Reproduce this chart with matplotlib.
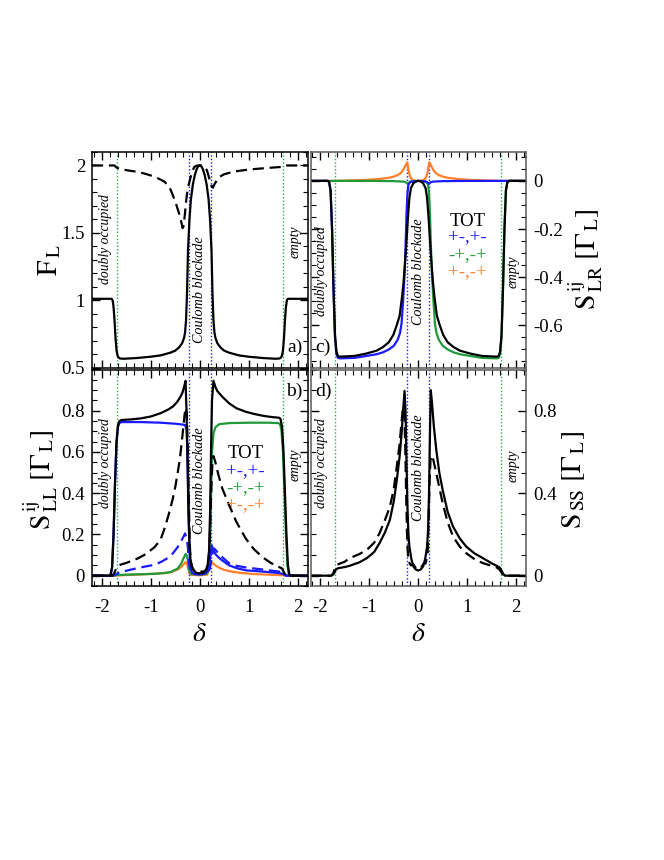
"""Four-panel noise plot: F_L, S_LL, S_LR, S_SS versus detuning delta."""

from __future__ import annotations

import matplotlib

matplotlib.use("Agg")

import matplotlib.pyplot as plt
from matplotlib.ticker import MultipleLocator, AutoMinorLocator

plt.rcParams["font.family"] = ["Liberation Serif", "DejaVu Serif"]
plt.rcParams["mathtext.fontset"] = "stix"

BLUE = "#1a1aff"
GREEN = "#1f9a3a"
ORANGE = "#ff7f2a"
VGREEN = "#2bb04a"

# 竖直参考线位置
delta_green = [-1.69, 1.69]
delta_blue = [-0.22, 0.22]

# ---- panel a: F_L ----
fl_solid_delta = [-2.2, -1.80, -1.78, -1.76, -1.74, -1.72, -1.70, -1.68, -1.66, -1.63, -1.55, -1.3, -1.0,
                  -0.8, -0.6, -0.5, -0.42, -0.36, -0.32, -0.3, -0.28, -0.26, -0.24, -0.21, -0.18, -0.14,
                  -0.1, -0.06, -0.03, 0.0, 0.03, 0.06, 0.1, 0.14, 0.18, 0.21, 0.24, 0.26, 0.28, 0.3, 0.32,
                  0.36, 0.42, 0.5, 0.6, 0.8, 1.0, 1.3, 1.55, 1.63, 1.66, 1.68, 1.70, 1.72, 1.74, 1.76, 1.78,
                  1.80, 2.2]
fl_solid = [1.01, 1.01, 1.0, 0.95, 0.85, 0.72, 0.63, 0.59, 0.575, 0.567, 0.565, 0.57, 0.58,
            0.59, 0.61, 0.625, 0.65, 0.68, 0.72, 0.76, 0.85, 1.05, 1.37, 1.6, 1.75, 1.86,
            1.93, 1.975, 1.995, 2.0, 1.995, 1.975, 1.93, 1.86, 1.75, 1.6, 1.37, 1.05, 0.85, 0.76, 0.72,
            0.68, 0.65, 0.625, 0.61, 0.59, 0.58, 0.57, 0.565, 0.567, 0.575, 0.59, 0.63, 0.72, 0.85, 0.95, 1.0,
            1.01, 1.01]
fl_dashed_delta = [-2.2, -1.74, -1.7, -1.64, -1.45, -1.27, -1.1, -0.92, -0.72, -0.62, -0.55, -0.48, -0.41,
                   -0.37, -0.35, -0.33, -0.3, -0.28, -0.25, -0.21, -0.16, -0.11, -0.05, 0.0, 0.05, 0.11,
                   0.15, 0.19, 0.22, 0.25, 0.27, 0.3, 0.35, 0.4, 0.5, 0.7, 1.0, 1.4, 1.7, 1.76, 2.2]
fl_dashed = [2.0, 2.0, 1.985, 1.975, 1.962, 1.953, 1.937, 1.917, 1.88, 1.84, 1.78, 1.71, 1.63,
             1.57, 1.535, 1.55, 1.65, 1.73, 1.82, 1.88, 1.95, 1.99, 2.0, 2.0, 2.0, 1.99,
             1.96, 1.91, 1.87, 1.84, 1.835, 1.86, 1.89, 1.915, 1.935, 1.955, 1.97, 1.982, 1.99, 2.0, 2.0]

# ---- panel b: S_LL ----
sll_tot_delta = [-2.2, -1.85, -1.82, -1.79, -1.76, -1.73, -1.7, -1.67, -1.64, -1.6, -1.4, -1.2, -1.0, -0.8,
                 -0.65, -0.55, -0.47, -0.4, -0.35, -0.31, -0.29, -0.27, -0.25, -0.23, -0.21, -0.19, -0.16,
                 -0.12, -0.08, -0.04, 0.0, 0.04, 0.08, 0.12, 0.16, 0.19, 0.21, 0.23, 0.25, 0.28, 0.32, 0.36,
                 0.46, 0.6, 0.75, 0.94, 1.1, 1.28, 1.45, 1.62, 1.65, 1.68, 1.71, 1.74, 1.77, 1.8, 1.83, 1.86, 2.2]
sll_tot = [0.0, 0.0, 0.005, 0.04, 0.2, 0.45, 0.65, 0.73, 0.75, 0.755, 0.758, 0.763, 0.772, 0.788,
           0.805, 0.82, 0.84, 0.865, 0.89, 0.925, 0.945, 0.8, 0.55, 0.3, 0.15, 0.08, 0.045,
           0.025, 0.015, 0.012, 0.012, 0.012, 0.015, 0.025, 0.05, 0.12, 0.3, 0.6, 0.85, 0.945, 0.915, 0.895,
           0.868, 0.836, 0.812, 0.795, 0.785, 0.776, 0.77, 0.766, 0.76, 0.72, 0.6, 0.4, 0.2, 0.05, 0.005, 0.0, 0.0]
sll_tot_dashed_delta = [-2.2, -1.78, -1.74, -1.7, -1.66, -1.5, -1.27, -1.1, -0.92, -0.8, -0.72, -0.63, -0.55,
                        -0.5, -0.45, -0.41, -0.38, -0.34, -0.31, -0.285, -0.265, -0.245, -0.225, -0.205,
                        -0.185, -0.15, -0.08, 0.0, 0.08, 0.14, 0.18, 0.2, 0.22, 0.24, 0.26, 0.28, 0.32, 0.38,
                        0.46, 0.6, 0.75, 0.94, 1.1, 1.28, 1.45, 1.62, 1.68, 1.72, 1.76, 2.2]
sll_tot_dashed = [0.0, 0.0, 0.015, 0.04, 0.05, 0.062, 0.083, 0.105, 0.139, 0.175, 0.228, 0.3, 0.374,
                  0.43, 0.5, 0.56, 0.62, 0.71, 0.78, 0.815, 0.79, 0.62, 0.37, 0.16,
                  0.07, 0.032, 0.02, 0.02, 0.02, 0.03, 0.07, 0.15, 0.3, 0.45, 0.55, 0.58, 0.55, 0.49,
                  0.423, 0.342, 0.26, 0.18, 0.13, 0.09, 0.062, 0.042, 0.035, 0.015, 0.0, 0.0]
sll_pm_delta = [-2.2, -1.85, -1.82, -1.79, -1.76, -1.73, -1.7, -1.67, -1.64, -1.6, -1.2, -0.8, -0.5, -0.35,
                -0.3, -0.27, -0.25, -0.23, -0.21, -0.19, -0.16, -0.1, 0.0, 0.1, 0.16, 0.2, 0.23, 0.245,
                0.28, 0.32, 0.4, 0.46, 0.6, 0.75, 0.94, 1.28, 1.62, 1.7, 1.76, 2.2]
sll_pm = [0.0, 0.0, 0.005, 0.04, 0.2, 0.45, 0.64, 0.72, 0.74, 0.745, 0.745, 0.742, 0.737, 0.733,
          0.73, 0.71, 0.6, 0.35, 0.12, 0.04, 0.015, 0.008, 0.008, 0.01, 0.02, 0.06, 0.12, 0.147,
          0.125, 0.105, 0.085, 0.074, 0.05, 0.037, 0.026, 0.02, 0.013, 0.008, 0.0, 0.0]
sll_pm_dashed_delta = [-2.2, -1.8, -1.72, -1.65, -1.5, -1.27, -1.1, -0.92, -0.78, -0.65, -0.55, -0.45,
                       -0.38, -0.33, -0.3, -0.28, -0.26, -0.24, -0.22, -0.19, -0.15, 0.0, 0.15, 0.2,
                       0.24, 0.27, 0.3, 0.34, 0.4, 0.46, 0.6, 0.75, 0.94, 1.28, 1.62, 1.7, 1.78, 2.2]
sll_pm_dashed = [0.0, 0.0, 0.005, 0.015, 0.024, 0.037, 0.045, 0.053, 0.068, 0.086, 0.108, 0.139,
                 0.168, 0.19, 0.205, 0.19, 0.17, 0.13, 0.06, 0.02, 0.01, 0.006, 0.01, 0.03,
                 0.08, 0.118, 0.131, 0.12, 0.1, 0.09, 0.06, 0.048, 0.04, 0.03, 0.02, 0.012, 0.0, 0.0]
sll_mp_delta = [-2.2, -1.75, -1.7, -1.5, -1.2, -0.92, -0.7, -0.59, -0.45, -0.38, -0.33, -0.29, -0.27,
                -0.25, -0.23, -0.21, -0.18, 0.0, 0.15, 0.19, 0.21, 0.23, 0.25, 0.28, 0.32, 0.4, 0.6,
                1.0, 1.4, 1.6, 1.64, 1.67, 1.7, 1.73, 1.76, 1.79, 1.82, 1.85, 2.2]
sll_mp = [0.0, 0.0, 0.003, 0.005, 0.007, 0.009, 0.013, 0.018, 0.035, 0.058, 0.085, 0.105, 0.1,
          0.085, 0.05, 0.02, 0.008, 0.005, 0.01, 0.04, 0.15, 0.4, 0.6, 0.69, 0.72, 0.735, 0.74,
          0.742, 0.742, 0.74, 0.735, 0.7, 0.6, 0.4, 0.2, 0.05, 0.005, 0.0, 0.0]
sll_x_delta = [-2.2, -1.75, -1.5, -1.2, -0.9, -0.7, -0.59, -0.45, -0.38, -0.33, -0.29, -0.27, -0.25,
               -0.23, -0.21, -0.18, 0.0, 0.15, 0.19, 0.22, 0.245, 0.27, 0.32, 0.4, 0.5, 0.65, 0.85,
               1.1, 1.4, 1.7, 1.8, 2.2]
sll_x = [0.0, 0.0, 0.003, 0.006, 0.01, 0.014, 0.017, 0.03, 0.042, 0.055, 0.065, 0.062, 0.05,
         0.03, 0.012, 0.004, 0.002, 0.005, 0.03, 0.055, 0.065, 0.06, 0.05, 0.038, 0.028, 0.02, 0.013,
         0.008, 0.005, 0.002, 0.0, 0.0]

# ---- panel c: S_LR ----
slr_tot_delta = [-2.2, -1.85, -1.82, -1.79, -1.76, -1.73, -1.7, -1.67, -1.64, -1.6, -1.3, -1.06, -0.85,
                 -0.72, -0.6, -0.51, -0.44, -0.38, -0.33, -0.3, -0.27, -0.24, -0.21, -0.18, -0.15, -0.1,
                 -0.05, 0.0, 0.05, 0.1, 0.15, 0.18, 0.21, 0.24, 0.27, 0.3, 0.33, 0.38, 0.44, 0.51, 0.6,
                 0.72, 0.85, 1.06, 1.3, 1.6, 1.64, 1.67, 1.7, 1.73, 1.76, 1.79, 1.82, 1.85, 2.2]
slr_tot = [0.0, 0.0, -0.005, -0.04, -0.2, -0.45, -0.64, -0.71, -0.728, -0.73, -0.727, -0.717, -0.705,
           -0.69, -0.67, -0.64, -0.6, -0.56, -0.48, -0.42, -0.34, -0.25, -0.15, -0.07, -0.03, -0.01,
           -0.002, 0.0, -0.002, -0.01, -0.03, -0.07, -0.15, -0.25, -0.34, -0.42, -0.48, -0.56, -0.6, -0.64, -0.67,
           -0.69, -0.705, -0.717, -0.727, -0.73, -0.728, -0.71, -0.64, -0.45, -0.2, -0.04, -0.005, 0.0, 0.0]
slr_pm_delta = [-2.2, -1.85, -1.82, -1.79, -1.76, -1.73, -1.7, -1.67, -1.64, -1.6, -1.3, -1.06, -0.85,
                -0.72, -0.6, -0.5, -0.42, -0.37, -0.34, -0.31, -0.28, -0.26, -0.24, -0.22, -0.2, -0.16,
                0.0, 0.15, 0.2, 0.22, 0.25, 0.3, 0.5, 1.0, 2.2]
slr_pm = [0.0, 0.0, -0.005, -0.04, -0.2, -0.45, -0.65, -0.72, -0.735, -0.737, -0.735, -0.727, -0.72,
          -0.712, -0.7, -0.685, -0.66, -0.63, -0.59, -0.5, -0.39, -0.28, -0.14, -0.05, -0.015, -0.004,
          0.0, -0.002, -0.008, -0.012, -0.006, -0.003, -0.001, 0.0, 0.0]
slr_mp_delta = [-2.2, -1.0, -0.5, -0.3, -0.25, -0.22, -0.2, -0.15, 0.0, 0.16, 0.2, 0.22, 0.24, 0.26,
                0.28, 0.31, 0.34, 0.37, 0.42, 0.5, 0.6, 0.72, 0.85, 1.06, 1.3, 1.6, 1.64, 1.67, 1.7,
                1.73, 1.76, 1.79, 1.82, 1.85, 2.2]
slr_mp = [0.0, 0.0, -0.001, -0.003, -0.006, -0.012, -0.008, -0.002, 0.0, -0.004, -0.015, -0.05, -0.14, -0.28,
          -0.39, -0.5, -0.59, -0.63, -0.66, -0.685, -0.7, -0.712, -0.72, -0.727, -0.735, -0.737, -0.735,
          -0.72, -0.65, -0.45, -0.2, -0.04, -0.005, 0.0, 0.0]
slr_x_delta = [-2.2, -1.7, -1.4, -1.06, -0.8, -0.6, -0.5, -0.42, -0.36, -0.31, -0.27, -0.24, -0.225,
               -0.21, -0.19, -0.16, -0.12, -0.06, 0.0, 0.06, 0.12, 0.16, 0.19, 0.21, 0.225, 0.24, 0.27,
               0.31, 0.36, 0.42, 0.5, 0.6, 0.8, 1.06, 1.4, 1.7, 2.2]
slr_x = [0.0, 0.0, 0.002, 0.004, 0.008, 0.013, 0.018, 0.024, 0.032, 0.045, 0.06, 0.072, 0.077,
         0.06, 0.035, 0.015, 0.005, 0.001, 0.0, 0.001, 0.005, 0.015, 0.035, 0.06, 0.077, 0.072, 0.06,
         0.045, 0.032, 0.024, 0.018, 0.013, 0.008, 0.004, 0.002, 0.0, 0.0]

# ---- panel d: S_SS ----
sss_solid_delta = [-2.2, -1.78, -1.74, -1.71, -1.68, -1.64, -1.5, -1.4, -1.2, -1.05, -0.9, -0.79, -0.68,
                   -0.58, -0.5, -0.44, -0.38, -0.34, -0.31, -0.28, -0.26, -0.24, -0.22, -0.2, -0.18,
                   -0.14, -0.1, -0.05, 0.0, 0.05, 0.1, 0.14, 0.18, 0.2, 0.22, 0.24, 0.255, 0.28, 0.32,
                   0.37, 0.43, 0.5, 0.6, 0.71, 0.85, 0.98, 1.15, 1.32, 1.5, 1.6, 1.66, 1.7, 1.73, 1.77, 2.2]
sss_solid = [0.0, 0.0, 0.005, 0.015, 0.03, 0.036, 0.042, 0.048, 0.065, 0.085, 0.115, 0.158, 0.21,
             0.27, 0.36, 0.46, 0.58, 0.69, 0.8, 0.896, 0.8, 0.55, 0.33, 0.2, 0.14,
             0.08, 0.045, 0.03, 0.025, 0.03, 0.045, 0.08, 0.14, 0.22, 0.4, 0.7, 0.9, 0.84, 0.72,
             0.607, 0.5, 0.414, 0.31, 0.238, 0.18, 0.141, 0.108, 0.085, 0.06, 0.048, 0.04, 0.025, 0.01, 0.0, 0.0]
sss_dashed_delta = [-2.2, -1.78, -1.74, -1.7, -1.66, -1.5, -1.4, -1.2, -1.05, -0.9, -0.79, -0.68, -0.58,
                    -0.5, -0.44, -0.38, -0.34, -0.31, -0.285, -0.265, -0.245, -0.225, -0.2, -0.15, -0.1,
                    -0.06, 0.0, 0.06, 0.1, 0.15, 0.19, 0.21, 0.23, 0.25, 0.27, 0.3, 0.37, 0.5, 0.6, 0.71,
                    0.85, 0.98, 1.15, 1.32, 1.6, 1.66, 1.7, 1.74, 2.2]
sss_dashed = [0.0, 0.0, 0.01, 0.035, 0.053, 0.068, 0.085, 0.105, 0.125, 0.16, 0.206, 0.27, 0.334,
              0.42, 0.527, 0.64, 0.75, 0.816, 0.79, 0.62, 0.37, 0.16, 0.07, 0.05, 0.055,
              0.04, 0.03, 0.04, 0.055, 0.06, 0.1, 0.25, 0.45, 0.56, 0.583, 0.57, 0.495, 0.35, 0.26, 0.19,
              0.14, 0.109, 0.08, 0.061, 0.04, 0.03, 0.015, 0.0, 0.0]

legend_labels = ["TOT", "+-,+-", "-+,-+", "+-,-+"]
legend_colors = ["black", BLUE, GREEN, ORANGE]


def _style_axis(ax: plt.Axes, ylim, major: float, minor: float, right: bool, bottom: bool) -> None:
    """统一刻度、范围和标签位置。"""

    ax.set_xlim(-2.2, 2.2)
    ax.set_ylim(*ylim)
    ax.xaxis.set_major_locator(MultipleLocator(1))
    ax.xaxis.set_minor_locator(AutoMinorLocator(6))
    ax.yaxis.set_major_locator(MultipleLocator(major))
    ax.yaxis.set_minor_locator(MultipleLocator(minor))
    ax.tick_params(which="both", direction="in", top=True, bottom=True, left=True, right=True,
                   labelsize=13.5, labelleft=not right, labelright=right, labelbottom=bottom)
    ax.tick_params(which="major", length=6, width=1.0)
    ax.tick_params(which="minor", length=3.5, width=0.8)
    ax.tick_params(axis="y", which="major", pad=5)
    ax.tick_params(axis="x", which="major", pad=9)
    for spine in ax.spines.values():
        spine.set_linewidth(1.1)
        spine.set_color("black" if not right else "0.35")


def _regions(ax: plt.Axes, y_text: tuple[float, float, float], x_text: tuple[float, float]) -> None:
    """画竖直参考线和区域文字。"""

    for d in delta_green:
        ax.axvline(d, color=VGREEN, linestyle=(0, (1, 1.5)), linewidth=1.0, zorder=1)
    for d in delta_blue:
        ax.axvline(d, color=BLUE, linestyle=(0, (1, 1.5)), linewidth=1.0, zorder=1)
    kw = dict(rotation=90, ha="center", va="center", style="italic")
    ax.text(x_text[0], y_text[0], "doubly occupied", fontsize=9.8, **kw)
    ax.text(0.0, y_text[1], "Coulomb blockade", fontsize=10.2, **kw)
    ax.text(x_text[1], y_text[2], "empty", fontsize=9.8, **kw)


def _legend(ax: plt.Axes, x: float, ys: list[float]) -> None:
    for label, color, y in zip(legend_labels, legend_colors, ys):
        ax.text(x, y, label, color=color, fontsize=13.5, ha="center", va="center")


fig = plt.figure(figsize=(6.64, 8.6), dpi=100)
W, H = 664.0, 860.0
ax_a = fig.add_axes([92 / W, 1 - 367.5 / H, 215.5 / W, 215.5 / H])
ax_b = fig.add_axes([92 / W, 1 - 586 / H, 215.5 / W, 216.5 / H])
ax_c = fig.add_axes([310.5 / W, 1 - 367.5 / H, 215.5 / W, 215.5 / H])
ax_d = fig.add_axes([310.5 / W, 1 - 586 / H, 215.5 / W, 216.5 / H])

LW = 1.6
DASH = (0, (5, 2.6))

# a)
_regions(ax_a, (1.45, 1.08, 1.43), (-1.92, 1.94))
ax_a.plot(fl_dashed_delta, fl_dashed, color="black", linestyle=DASH, linewidth=LW)
ax_a.plot(fl_solid_delta, fl_solid, color="black", linewidth=LW)
_style_axis(ax_a, (0.5, 2.1), 0.5, 0.1, right=False, bottom=False)
ax_a.yaxis.set_major_formatter(plt.FuncFormatter(lambda v, _: f"{v:g}"))
ax_a.set_ylabel(r"$\mathrm{F}_{\,\mathrm{L}}$", fontsize=20, rotation=90)
ax_a.yaxis.set_label_coords(-0.135, 0.5)
ax_a.text(0.94, 0.095, "a)", transform=ax_a.transAxes, fontsize=14, ha="center", va="center")

# b)
_regions(ax_b, (0.546, 0.463, 0.536), (-1.92, 1.94))
ax_b.plot(sll_x_delta, sll_x, color=ORANGE, linewidth=LW)
ax_b.plot(sll_mp_delta, sll_mp, color=GREEN, linewidth=LW)
ax_b.plot(sll_pm_dashed_delta, sll_pm_dashed, color=BLUE, linestyle=DASH, linewidth=LW)
ax_b.plot(sll_pm_delta, sll_pm, color=BLUE, linewidth=LW)
ax_b.plot(sll_tot_dashed_delta, sll_tot_dashed, color="black", linestyle=DASH, linewidth=LW)
ax_b.plot(sll_tot_delta, sll_tot, color="black", linewidth=LW)
_style_axis(ax_b, (-0.05, 1.0), 0.2, 0.05, right=False, bottom=True)
ax_b.yaxis.set_major_formatter(plt.FuncFormatter(lambda v, _: "" if v > 0.95 else f"{v:g}"))
ax_b.xaxis.set_major_formatter(plt.FuncFormatter(lambda v, _: f"{v:g}"))
ax_b.set_ylabel(r"$\mathrm{S}^{\,\mathrm{ij}}_{\,\mathrm{LL}}\ [\Gamma_{\,\mathrm{L}}]$", fontsize=20, rotation=90)
ax_b.yaxis.set_label_coords(-0.15, 0.49)
ax_b.set_xlabel(r"$\delta$", fontsize=20)
ax_b.xaxis.set_label_coords(0.5, -0.165)
ax_b.text(0.94, 0.897, "b)", transform=ax_b.transAxes, fontsize=14, ha="center", va="center")
_legend(ax_b, 0.94, [0.593, 0.504, 0.423, 0.342])

# c)
_regions(ax_c, (-0.375, -0.379, -0.379), (-1.97, 1.93))
ax_c.plot(slr_x_delta, slr_x, color=ORANGE, linewidth=LW)
ax_c.plot(slr_mp_delta, slr_mp, color=GREEN, linewidth=LW)
ax_c.plot(slr_pm_delta, slr_pm, color=BLUE, linewidth=LW)
ax_c.plot(slr_tot_delta, slr_tot, color="black", linewidth=LW)
_style_axis(ax_c, (-0.775, 0.12), 0.2, 0.05, right=True, bottom=False)
ax_c.yaxis.set_major_formatter(plt.FuncFormatter(lambda v, _: "0" if abs(v) < 1e-9 else f"{v:.1f}"))
ax_c.yaxis.set_label_position("right")
ax_c.set_ylabel(r"$\mathrm{S}^{\,\mathrm{ij}}_{\,\mathrm{LR}}\ [\Gamma_{\,\mathrm{L}}]$", fontsize=20, rotation=90)
ax_c.yaxis.set_label_coords(1.19, 0.5)
ax_c.text(0.06, 0.095, "c)", transform=ax_c.transAxes, fontsize=14, ha="center", va="center")
_legend(ax_c, 1.01, [-0.168, -0.236, -0.312, -0.38])

# d)
_regions(ax_d, (0.545, 0.525, 0.535), (-1.97, 1.93))
ax_d.plot(sss_dashed_delta, sss_dashed, color="black", linestyle=DASH, linewidth=LW)
ax_d.plot(sss_solid_delta, sss_solid, color="black", linewidth=LW)
_style_axis(ax_d, (-0.05, 1.0), 0.4, 0.1, right=True, bottom=True)
ax_d.yaxis.set_major_formatter(plt.FuncFormatter(lambda v, _: f"{v:g}"))
ax_d.xaxis.set_major_formatter(plt.FuncFormatter(lambda v, _: f"{v:g}"))
ax_d.yaxis.set_label_position("right")
ax_d.set_ylabel(r"$\mathrm{S}_{\,\mathrm{SS}}\ [\Gamma_{\,\mathrm{L}}]$", fontsize=20, rotation=90)
ax_d.yaxis.set_label_coords(1.16, 0.49)
ax_d.set_xlabel(r"$\delta$", fontsize=20)
ax_d.xaxis.set_label_coords(0.5, -0.165)
ax_d.text(0.06, 0.897, "d)", transform=ax_d.transAxes, fontsize=14, ha="center", va="center")

fig.savefig("out.png", dpi=100)
plt.close(fig)
